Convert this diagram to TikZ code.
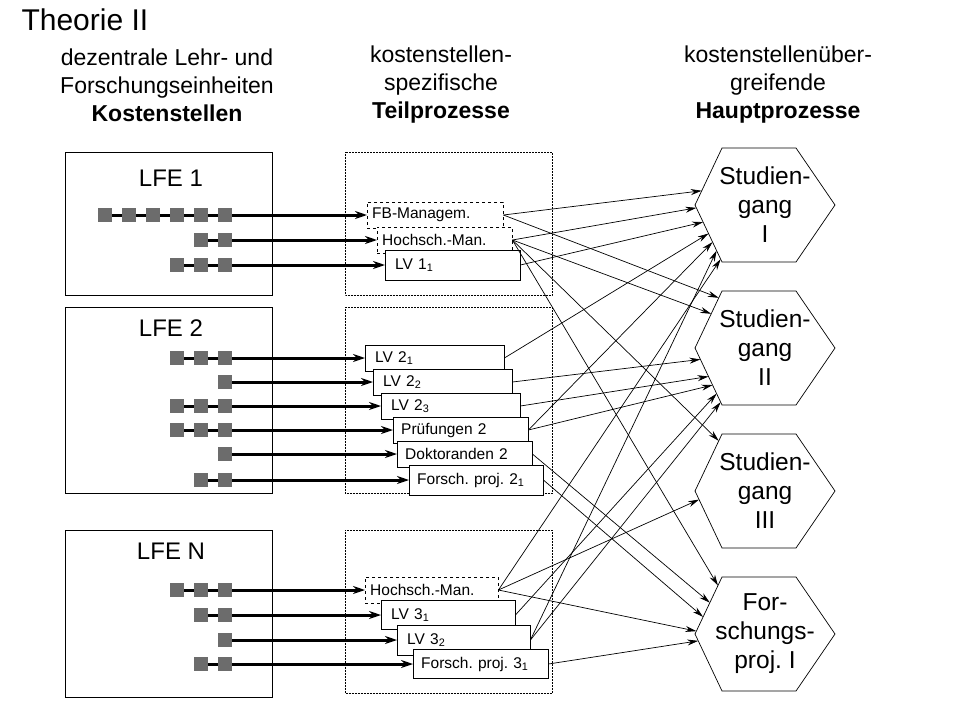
\documentclass[tikz,border=0pt]{standalone}
\usepackage{fontspec}
\setmainfont{Liberation Sans}
\usetikzlibrary{calc,arrows.meta}
\frenchspacing
\begin{document}
\begin{tikzpicture}[x={(1pt,0)},y={(0,-1pt)},
  sq/.style={fill=gray!85!black,minimum size=14pt,inner sep=0pt},
  lfe/.style={draw,line width=1pt},
  grp/.style={draw,densely dotted,line width=0.5pt},
  tb/.style={draw,fill=white,anchor=west,minimum height=26pt,text width=#1,inner sep=0pt,align=left,font=\fontsize{15.5}{15.5}\selectfont},
  dtb/.style={tb=#1,dashed},
  feed/.style={line width=3pt,-{Stealth[length=12pt,width=8pt]}},
  con/.style={line width=0.7pt,-{Stealth[length=11pt,width=6pt]}},
  hd/.style={align=center,font=\fontsize{23}{28}\selectfont},
  hx/.style={align=center,font=\fontsize{24.5}{29}\selectfont}]
\useasboundingbox (0,0) rectangle (960,720);
\node[anchor=west,font=\fontsize{30}{30}\selectfont] (title) at (18,20) {Theorie II};
\node[hd] (h1) at (167,85) {dezentrale Lehr- und\\Forschungseinheiten\\\textbf{Kostenstellen}};
\node[hd] (h2) at (441,85) {kostenstellen-\\spezifische\\\textbf{Teilprozesse}};
\node[hd] (h3) at (778,85) {kostenstellenüber-\\greifende\\\textbf{Hauptprozesse}};
% LFE boxes
\draw[lfe] (65,152) rectangle (272,295);
\draw[lfe] (65,307) rectangle (272,493);
\draw[lfe] (65,530) rectangle (272,697);
\node[font=\fontsize{24}{24}\selectfont] (l1) at (171,178) {LFE 1};
\node[font=\fontsize{24}{24}\selectfont] (l2) at (171,328) {LFE 2};
\node[font=\fontsize{24}{24}\selectfont] (l3) at (171,551) {LFE N};
\draw[grp] (345,152) rectangle (552,295);
\draw[grp] (345,307) rectangle (552,493);
\draw[grp] (345,530) rectangle (552,693);
% text boxes
\node[dtb=136pt] (fb) at (367,215) {\hspace{5pt}FB-Managem.};
\node[dtb=135pt] (hm1) at (377,240) {\hspace{5pt}Hochsch.-Man.};
\node[tb=135pt,minimum height=30pt] (lv11) at (385,265) {\hspace{10pt}LV 1\textsubscript{1}};
\node[tb=139pt] (lv21) at (365,358) {\hspace{10pt}LV 2\textsubscript{1}};
\node[tb=139pt] (lv22) at (373,382) {\hspace{10pt}LV 2\textsubscript{2}};
\node[tb=139pt] (lv23) at (381,406) {\hspace{10pt}LV 2\textsubscript{3}};
\node[tb=135pt] (pr2) at (393,430) {\hspace{8pt}Prüfungen 2};
\node[tb=135pt] (dk2) at (397,454) {\hspace{8pt}Doktoranden 2};
\node[tb=134pt,minimum height=30pt] (fp2) at (409,480) {\hspace{8pt}Forsch. proj. 2\textsubscript{1}};
\node[dtb=133pt] (hmn) at (365,590) {\hspace{5pt}Hochsch.-Man.};
\node[tb=134pt,minimum height=29pt] (lv31) at (381,615) {\hspace{10pt}LV 3\textsubscript{1}};
\node[tb=133pt,minimum height=30pt] (lv32) at (397,640) {\hspace{10pt}LV 3\textsubscript{2}};
\node[tb=135pt,minimum height=29pt] (fp3) at (413,664) {\hspace{8pt}Forsch. proj. 3\textsubscript{1}};
% feed rows
\foreach \y/\first/\tgt/\xs in {215/a1/fb/{105,129,153,177,201,225},240/a2/hm1/{201,225},265/a3/lv11/{177,201,225},
  358/b1/lv21/{177,201,225},382/b2/lv22/{225},406/b3/lv23/{177,201,225},430/b4/pr2/{177,201,225},454/b5/dk2/{225},480/b6/fp2/{201,225},
  590/c1/hmn/{177,201,225},615/c2/lv31/{201,225},640/c3/lv32/{225},664/c4/fp3/{201,225}}{
  \foreach \x [count=\i] in \xs {\ifnum\i=1 \coordinate (\first) at (\x,\y);\fi}
  \draw[feed] (\first) -- (\tgt.west);
  \foreach \x [count=\i] in \xs {\node[sq] (\first-\i) at (\x,\y) {};}
}
% hexagons
\foreach \n/\cy/\t in {H1/205/{Studien-\\gang\\I},H2/348/{Studien-\\gang\\II},H3/491/{Studien-\\gang\\III},H4/634/{For-\\schungs-\\proj. I}}{
  \coordinate (\n-ul) at (722,\cy-57); \coordinate (\n-l) at (695,\cy); \coordinate (\n-ll) at (722,\cy+57);
  \draw[line width=0.7pt] (722,\cy-57) -- (796,\cy-57) -- (835,\cy) -- (796,\cy+57) -- (722,\cy+57) -- (695,\cy) -- cycle;
  \node[hx] (\n) at (765,\cy) {\t};
}
% connectors
\foreach \s/\h/\e/\t in {fb/H1/u/0.75, fb/H2/u/0.12, hm1/H1/d/0.05, hm1/H2/u/0.4, hm1/H3/u/0.12, hm1/H4/u/0.15,
  lv11/H1/d/0.3, lv21/H1/d/0.5, pr2/H1/d/0.65, lv32/H1/d/0.8, hmn/H1/d/0.95,
  lv22/H2/d/0.2, lv23/H2/d/0.5, pr2/H2/d/0.65, lv31/H2/d/0.8, lv32/H2/d/0.95,
  hmn/H3/d/0.15, dk2/H4/u/0.45, fp2/H4/u/0.7, hmn/H4/u/0.95, fp3/H4/d/0.12}{
  \if\e u \coordinate (tg) at ($(\h-ul)!\t!(\h-l)$); \else \coordinate (tg) at ($(\h-l)!\t!(\h-ll)$); \fi
  \draw[con] (\s.east) -- (tg);
}
\end{tikzpicture}
\end{document}
